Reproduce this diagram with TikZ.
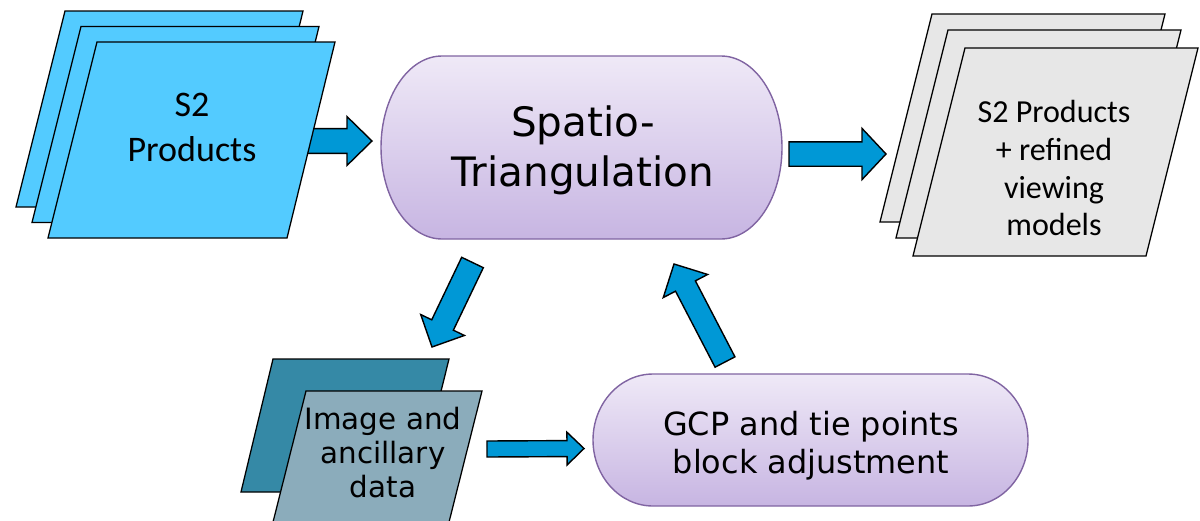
\documentclass[tikz,border=0pt]{standalone}
\usepackage{fontspec}
\setmainfont{DejaVu Sans}
\newfontfamily\prodfont{Carlito}
\usetikzlibrary{calc}

\definecolor{prodblue}{RGB}{83,203,255}
\definecolor{prodgray}{RGB}{231,231,231}
\definecolor{imgdark}{RGB}{53,137,166}
\definecolor{imglight}{RGB}{139,172,187}
\definecolor{arrowblue}{RGB}{0,152,214}
\definecolor{lavtop}{RGB}{239,233,247}
\definecolor{lavbot}{RGB}{199,181,226}
\definecolor{lavline}{RGB}{128,100,162}

% tail, tip, half shaft, half head, head length
\newcommand{\blockarrow}[5]{%
  \coordinate (hb) at ($(#2)!#5!(#1)$);
  \draw[barrow] ($(#1)!#3!90:(#2)$) -- ($(hb)!#3!90:(#2)$) -- ($(hb)!#4!90:(#2)$) -- (#2)
    -- ($(hb)!#4!-90:(#2)$) -- ($(hb)!#3!-90:(#2)$) -- ($(#1)!#3!-90:(#2)$) -- cycle;}

% left, top, right, bottom, end radius
\newcommand{\terminal}[5]{%
  \draw[term] ({#1+#5},#2) -- ({#3-#5},#2)
    arc[start angle=90, end angle=-90, x radius={#5*0.025cm}, y radius={(#4-#2)*0.0125cm}]
    -- ({#1+#5},#4)
    arc[start angle=-90, end angle=-270, x radius={#5*0.025cm}, y radius={(#4-#2)*0.0125cm}]
    -- cycle;}

\begin{document}
\begin{tikzpicture}
		[x=0.025cm, y=-0.025cm,
		sheet/.style={draw=black, line width=0.9pt, line join=miter},
		barrow/.style={draw=black, fill=arrowblue, line width=1pt, line join=miter},
		term/.style={draw=lavline, line width=1pt, top color=lavtop, bottom color=lavbot},
		boxtext/.style={align=center, inner sep=0pt}]
		\clip (0,0) rectangle (1200,520);

		\coordinate (prodout) at (300,141);
		\coordinate (triin) at (372,141);
		\coordinate (triout) at (789,154);
		\coordinate (refin) at (886,154);
		\coordinate (tridown) at (472.5,262.5);
		\coordinate (imgin) at (432,347);
		\coordinate (imgout) at (487,449);
		\coordinate (gcpin) at (584,448.5);
		\coordinate (gcpout) at (725,362);
		\coordinate (triup) at (674,264);

		\blockarrow{prodout}{triin}{0.31cm}{0.61cm}{0.625cm}
		\blockarrow{triout}{refin}{0.305cm}{0.64cm}{0.6cm}
		\blockarrow{tridown}{imgin}{0.3cm}{0.605cm}{0.61cm}
		\blockarrow{gcpout}{triup}{0.28cm}{0.625cm}{0.62cm}
		\blockarrow{imgout}{gcpin}{0.2cm}{0.41cm}{0.425cm}

		\foreach \dx/\dy in {-32/-31, -16/-15.5, 0/0}
			\draw[sheet, fill=prodblue, shift={(\dx,\dy)}] (97,42) -- (335,42) -- (287,238) -- (48,238) -- cycle;
		\foreach \dx/\dy in {-33/-34, -17/-18, 0/0}
			\draw[sheet, fill=prodgray, shift={(\dx,\dy)}] (965,48) -- (1198,48) -- (1146,256) -- (913,256) -- cycle;
		\draw[sheet, fill=imgdark] (273,359) -- (449,359) -- (416,492) -- (241,492) -- cycle;
		\draw[sheet, fill=imglight] (306,391) -- (482,391) -- (447,530) -- (271,530) -- cycle;

		\terminal{381}{56}{782}{239}{61}
		\terminal{593}{374}{1028}{506}{60}

		\node[boxtext, font=\prodfont\fontsize{25.6}{32}\selectfont] (prod) at (192,127) {S2\\Products};
		\node[boxtext, font=\prodfont\fontsize{22.8}{27}\selectfont] (ref) at (1054,168) {S2 Products\\+ refined\\viewing\\models};
		\node[boxtext, font=\fontsize{28.8}{35.6}\selectfont] (tri) at (583,150) {Spatio-\\Triangulation};
		\node[boxtext, font=\fontsize{22.7}{27}\selectfont] (gcp) at (811,446) {GCP and tie points\\block adjustment};
		\node[boxtext, font=\fontsize{20.9}{24.2}\selectfont] (img) at (383,453) {Image and\\ancillary\\data};
	\end{tikzpicture}
\end{document}
